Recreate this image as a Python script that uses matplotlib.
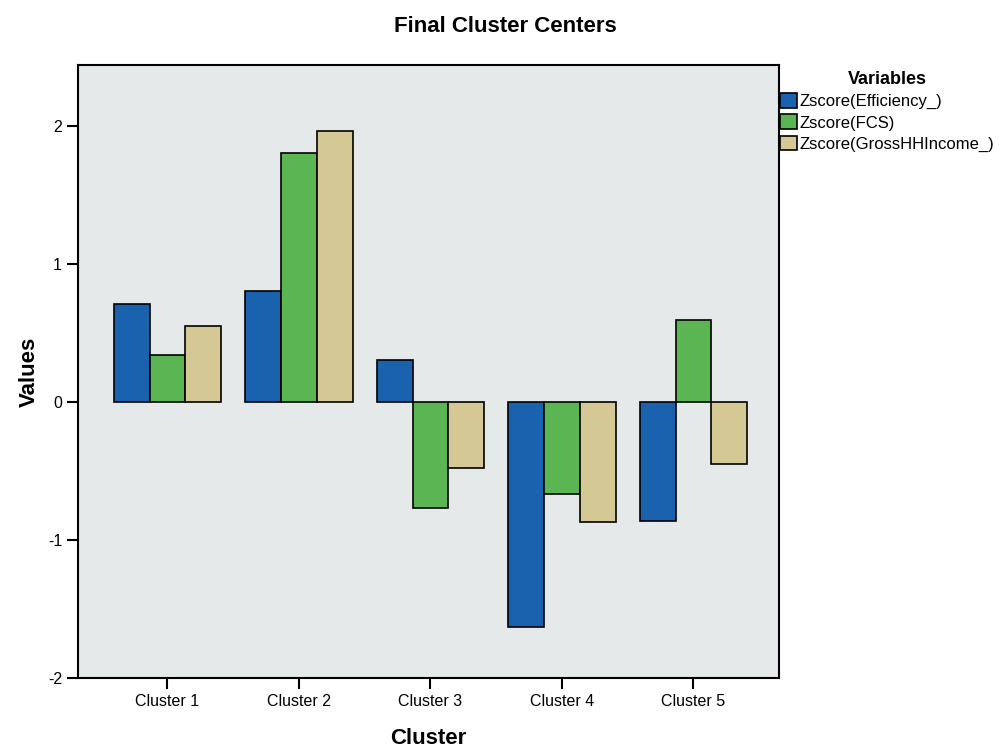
import matplotlib
matplotlib.use("Agg")
import matplotlib.pyplot as plt
import numpy as np

plt.rcParams['font.family'] = ['Liberation Sans', 'DejaVu Sans']

clusters = ["Cluster 1", "Cluster 2", "Cluster 3", "Cluster 4", "Cluster 5"]
series_names = ["Zscore(Efficiency_)", "Zscore(FCS)", "Zscore(GrossHHIncome_)"]
efficiency = [0.71, 0.80, 0.30, -1.63, -0.86]
fcs = [0.34, 1.80, -0.77, -0.67, 0.59]
income = [0.55, 1.96, -0.48, -0.87, -0.45]
colors = ["#1a62ae", "#5ab552", "#d4c995"]

fig = plt.figure(figsize=(10.07, 7.48), dpi=100)
ax = fig.add_axes([0.0775, 0.0936, 0.696, 0.8194])
ax.set_facecolor("#e5e9e9")

x = np.arange(len(clusters))
w = 0.272
for i, (vals, c, name) in enumerate(zip([efficiency, fcs, income], colors, series_names)):
    ax.bar(x + (i - 1) * w, vals, width=w, color=c, edgecolor="black", linewidth=1.2, label=name, zorder=3)

ax.set_xlim(-0.68, 4.65)
ax.set_ylim(-2.0, 2.44)
ax.set_yticks([-2, -1, 0, 1, 2])
ax.set_yticklabels(["-2", "-1", "0", "1", "2"])
ax.set_xticks(x)
ax.set_xticklabels(clusters)
ax.tick_params(axis='both', direction='out', length=8, width=1.5, labelsize=11.5)
for s in ax.spines.values():
    s.set_linewidth(1.5)

ax.set_xlabel("Cluster", fontsize=16, fontweight="bold", labelpad=14)
ax.set_ylabel("Values", fontsize=16, fontweight="bold", labelpad=6)
fig.text(0.502, 0.965, "Final Cluster Centers", ha="center", va="center", fontsize=16, fontweight="bold")

leg = ax.legend(loc="upper left", bbox_to_anchor=(0.775, 0.905), bbox_transform=fig.transFigure,
                frameon=False, fontsize=12, handlelength=1.0, handleheight=1.0,
                handletextpad=0.15, labelspacing=0.3, borderaxespad=0, borderpad=0,
                title="Variables", title_fontproperties={"weight": "bold", "size": 13})

fig.savefig("out.png", dpi=100)
